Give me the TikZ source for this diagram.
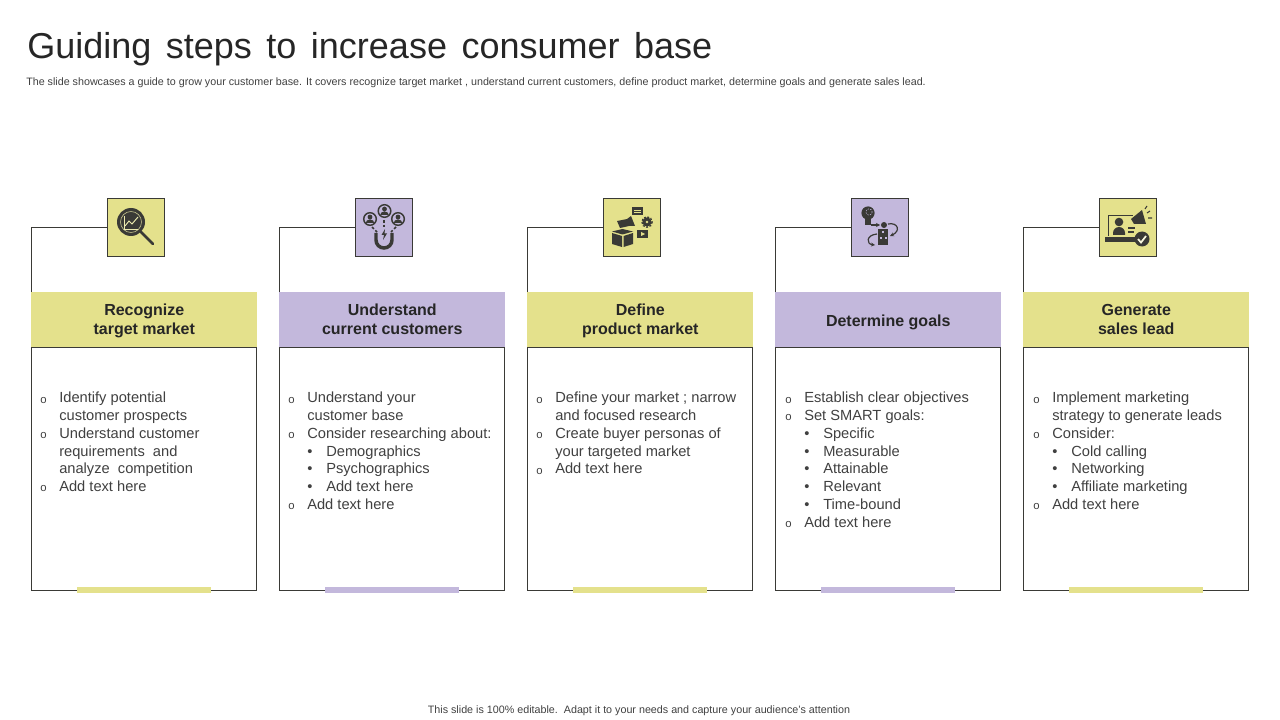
\documentclass[tikz,border=0pt]{standalone}
\usepackage{fontspec}
\setmainfont{Liberation Sans}
\usetikzlibrary{arrows.meta}
\definecolor{yel}{HTML}{E4E18C}
\definecolor{pur}{HTML}{C3B8DC}
\definecolor{ink}{HTML}{3A3A36}
\definecolor{txt}{HTML}{404040}
\newcommand\mitem[1]{\makebox[14.25pt][l]{\raisebox{-.2pt}{\fontsize{8.5}{8.5}\selectfont o}}#1}
\newcommand\citem[1]{\hspace*{14.25pt}#1}
\newcommand\sitem[1]{\hspace*{14.25pt}\makebox[14.25pt][l]{•}#1}
\tikzset{
  x=.75pt,y=-.75pt,
  iconbox/.style={draw=ink,line width=.75pt,anchor=north west,inner sep=0,minimum width=42.9pt,minimum height=43.5pt},
  header/.style={anchor=north west,inner sep=0,minimum width=169.5pt,minimum height=41.25pt,align=center,text=black!85,font=\bfseries\fontsize{12}{14.2}\selectfont},
  card/.style={draw=ink,line width=.75pt,anchor=north west,inner sep=0,minimum width=169.1pt,minimum height=182.25pt},
  accent/.style={anchor=center,inner sep=0,minimum width=100.5pt,minimum height=4.5pt},
  body/.style={anchor=north west,inner sep=0,align=left,text=txt,font=\fontsize{11}{13.3}\selectfont},
  link/.style={draw=ink,line width=.75pt},
}
\begin{document}
\begin{tikzpicture}
\useasboundingbox (0,0) rectangle (1280,720);
\node[anchor=base west,inner sep=0,text=black!85,font=\fontsize{27}{32}\selectfont] (title) at (27,59) {\spaceskip=10.9pt Guiding steps to increase consumer base};
\node[anchor=base west,inner sep=0,text=txt,font=\fontsize{8.04}{9}\selectfont] (sub) at (26,86) {The slide showcases a guide to grow your customer base. It covers recognize target market , understand current customers, define product market, determine goals and generate sales lead.};
\node[anchor=base,inner sep=0,text=txt,font=\fontsize{8.05}{9}\selectfont] (foot) at (639,713) {This slide is 100\% editable.\ \ Adapt it to your needs and capture your audience's attention};

% frames
\foreach \n/\xx/\ix/\col in {1/31/107/yel,2/279/355/pur,3/527/603/yel,4/775/851/pur,5/1023/1099/yel}{
  \node[iconbox,fill=\col] (ic\n) at (\ix,198) {};
  \node[header,fill=\col] (hd\n) at (\xx,292) {};
  \node[card] (cd\n) at (\xx-.5,347) {};
  \node[accent,fill=\col] (ac\n) at (\xx+113,590) {};
  \draw[link] (ic\n.west) -| (hd\n.north west);
}
\node[header,fill=none] (t1) at (31,293) {\strut Recognize\\\strut target market};
\node[header,fill=none] (t2) at (279,293) {\strut Understand\\\strut current customers};
\node[header,fill=none] (t3) at (527,293) {\strut Define\\\strut product market};
\node[header,fill=none] (t4) at (775,295) {\strut Determine goals};
\node[header,fill=none] (t5) at (1023,293) {\strut Generate\\\strut sales lead};

% body text
\node[body] (b1) at (40,392) {\mitem{Identify potential}\\\citem{customer prospects}\\\mitem{Understand customer}\\\citem{requirements\ \ and}\\\citem{analyze\ \ competition}\\\mitem{Add text here}};
\node[body] (b2) at (288,392) {\mitem{Understand your}\\\citem{customer base}\\\mitem{Consider researching about:}\\\sitem{Demographics}\\\sitem{Psychographics}\\\sitem{Add text here}\\\mitem{Add text here}};
\node[body] (b3) at (536,392) {\mitem{Define your market ; narrow}\\\citem{and focused research}\\\mitem{Create buyer personas of}\\\citem{your targeted market}\\\mitem{Add text here}};
\node[body] (b4) at (785,392) {\mitem{Establish clear objectives}\\\mitem{Set SMART goals:}\\\sitem{Specific}\\\sitem{Measurable}\\\sitem{Attainable}\\\sitem{Relevant}\\\sitem{Time-bound}\\\mitem{Add text here}};
\node[body] (b5) at (1033,392) {\mitem{Implement marketing}\\\citem{strategy to generate leads}\\\mitem{Consider:}\\\sitem{Cold calling}\\\sitem{Networking}\\\sitem{Affiliate marketing}\\\mitem{Add text here}};

% icon 1: magnifier
\draw[ink,line width=2pt,line cap=round] (141,232)--(153,244);
\fill[ink] (131,222) circle (14);
\draw[yel!60!gray,line width=.5pt] (131,222) circle (10.5);
\draw[yel!70!white,line width=.5pt] (124,216)--(124,229)--(138,229);
\draw[yel!70!white,line width=.7pt] (125,226)--(129,221)--(132,224)--(138,217);

% icon 2: people and magnet
\foreach \cx/\cy in {370/219,384.5/211,398/219}{
  \draw[ink,line width=1.1pt] (\cx,\cy) circle (6.3);
  \fill[ink] (\cx,\cy-2) circle (2.4);
  \fill[ink] (\cx-4.3,\cy+4) arc[start angle=180,end angle=360,x radius=4.3,y radius=3.6] -- cycle;
}
\draw[ink,line width=2.6pt] (376,233)--(376,240) arc[start angle=180,end angle=0,radius=8] -- (392,233);
\draw[ink,line width=1.1pt,dash pattern=on 2pt off 1.5pt] (384,220)--(384,227);
\draw[ink,line width=1.1pt,dash pattern=on 2pt off 1.5pt] (372,227)--(377,232);
\draw[ink,line width=1.1pt,dash pattern=on 2pt off 1.5pt] (396,227)--(391,232);
\fill[ink] (385,229)--(381.5,235)--(384,235)--(383,240)--(387,233.5)--(384.5,233.5)--cycle;

% icon 3: box, megaphone, bubble, gear, video
\fill[ink] (612,233)--(622,236)--(622,247)--(612,244)--cycle;
\fill[ink] (633,233)--(623.5,236)--(623.5,247)--(633,244)--cycle;
\fill[ink] (612,231.5)--(622.5,229)--(633,231.5)--(622.5,234.5)--cycle;
\fill[ink] (617,221)--(627,219)--(631,216)--(635,226)--(629,226)--(620,228)--cycle;
\fill[ink] (632,207) rectangle (643,215);
\draw[yel,line width=.6pt] (634,210)--(641,210) (634,212.5)--(641,212.5);
\fill[ink] (647,222) circle (4.6);
\draw[ink,line width=1pt,dash pattern=on 1.4pt off 1.2pt] (647,222) circle (5.2);
\fill[yel] (647,222) circle (1.3);
\fill[ink] (637,230) rectangle (648,238);
\fill[yel] (641,232)--(645,234)--(641,236)--cycle;

% icon 4: bulb, process, building
\fill[ink] (868,213) circle (6.6);
\fill[ink] (865,218) rectangle (871,225);
\draw[pur,line width=.4pt,dash pattern=on 1pt off 1pt] (869,212) circle (3.2);
\draw[ink,line width=.9pt,-{Stealth[length=3pt,width=3pt]}] (871,225)--(880,225);
\fill[ink] (884,225) circle (3);
\draw[ink,line width=.9pt,-{Stealth[length=3pt,width=3pt]}] (888,224) .. controls (898,222) and (901,231) .. (890,236);
\fill[ink] (878,229) rectangle (888,245);
\foreach \wx/\wy in {882/231,880/237,884.5/237}{\fill[pur] (\wx,\wy) rectangle +(2,2);}
\draw[ink,line width=.9pt,-{Stealth[length=3pt,width=3pt]}] (877,234) .. controls (866,235) and (866,244) .. (875,245);

% icon 5: laptop, person, megaphone, check
\draw[ink,line width=1.2pt] (1108.5,236)--(1108.5,215.5)--(1133,215.5);
\fill[ink] (1105,237) rectangle (1136,242);
\fill[ink] (1119,222) circle (4.3);
\fill[ink] (1113,235)--(1113,233) arc[start angle=180,end angle=360,radius=6] -- (1125,235) -- cycle;
\draw[ink,line width=1pt] (1128,228)--(1135,228) (1128,232)--(1134,232);
\fill[ink] (1131,219)--(1142,210)--(1146,224)--(1134,224)--cycle;
\draw[ink,line width=.8pt] (1147,213)--(1150,211) (1148,218)--(1152,218) (1145,209)--(1147,206);
\fill[ink] (1142,239) circle (7.5);
\draw[yel!30!white,line width=1.3pt] (1138,239)--(1141,242.5)--(1146,236);
\end{tikzpicture}
\end{document}
